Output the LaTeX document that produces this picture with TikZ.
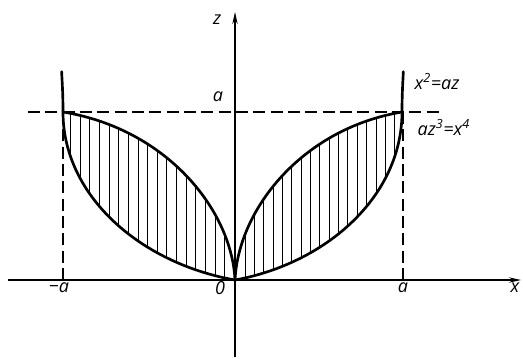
\documentclass[tikz,border=0pt]{standalone}
\usepackage{fontspec}
\setmainfont{Open Sans}
\usetikzlibrary{arrows.meta}
\tikzset{
  curve/.style={line width=2pt, line join=round, line cap=round},
  hatch/.style={line width=0.6pt},
  axis/.style={line width=1.1pt},
  guide/.style={line width=0.9pt, dash pattern=on 9pt off 4pt},
  lab/.style={font=\fontsize{13.5}{15}\selectfont\itshape, inner sep=1pt}
}
\newcommand\halfshape{%
  \begin{scope}
    \clip (0,0) .. controls (0.02,0.42) and (0.4,0.9) .. (1,1)
      .. controls (1,0.5) and (0.55,0.1) .. (0,0) -- cycle;
    \foreach \u in {0.06,0.116,...,1.0} \draw[hatch] (\u,0) -- (\u,1.05);
  \end{scope}
  \draw[curve] (0,0) .. controls (0.02,0.42) and (0.4,0.9) .. (1,1);
  \draw[curve] (0,0) .. controls (0.55,0.1) and (1,0.5) .. (1,1)
     .. controls (1,1.1) and (1.004,1.16) .. (1.008,1.24);
}
\begin{document}
\begin{tikzpicture}[x=0.75pt,y=0.75pt]
  \useasboundingbox (0,0) rectangle (523,358);
  % right half
  \begin{scope}[shift={(235,78)}, x=125.25pt, y=126pt]
    \halfshape
  \end{scope}
  % left half
  \begin{scope}[shift={(235,78)}, x=-129pt, y=126pt]
    \halfshape
  \end{scope}
  % guide lines
  \coordinate (hl) at (28,246);
  \coordinate (hr) at (440,246);
  \coordinate (lt) at (63,246);
  \coordinate (lb) at (63,78);
  \coordinate (rt) at (403,246);
  \coordinate (rb) at (403,78);
  \draw[guide] (hl) -- (hr);
  \draw[guide] (lt) -- (lb);
  \draw[guide] (rt) -- (rb);
  % axes
  \coordinate (xs) at (8,78);
  \coordinate (xe) at (521,78);
  \coordinate (zs) at (235,1);
  \coordinate (ze) at (235,346);
  \draw[axis, -{Stealth[length=9pt,width=4pt]}] (xs) -- (xe);
  \draw[axis, -{Stealth[length=9pt,width=4pt]}] (zs) -- (ze);
  % labels
  \node[lab] (zlab) at (217,338) {z};
  \node[lab] (alab) at (218,261) {a};
  \node[lab, anchor=west] (eq1) at (413,276) {x\textsuperscript{2}=az};
  \node[lab, anchor=west] (eq2) at (416,230) {az\textsuperscript{3}=x\textsuperscript{4}};
  \node[lab] (ma) at (59,70) {−a};
  \node[lab] (olab) at (220,70) {0};
  \node[lab] (ar) at (403,70) {a};
  \node[lab] (xlab) at (515,70) {x};
\end{tikzpicture}
\end{document}
